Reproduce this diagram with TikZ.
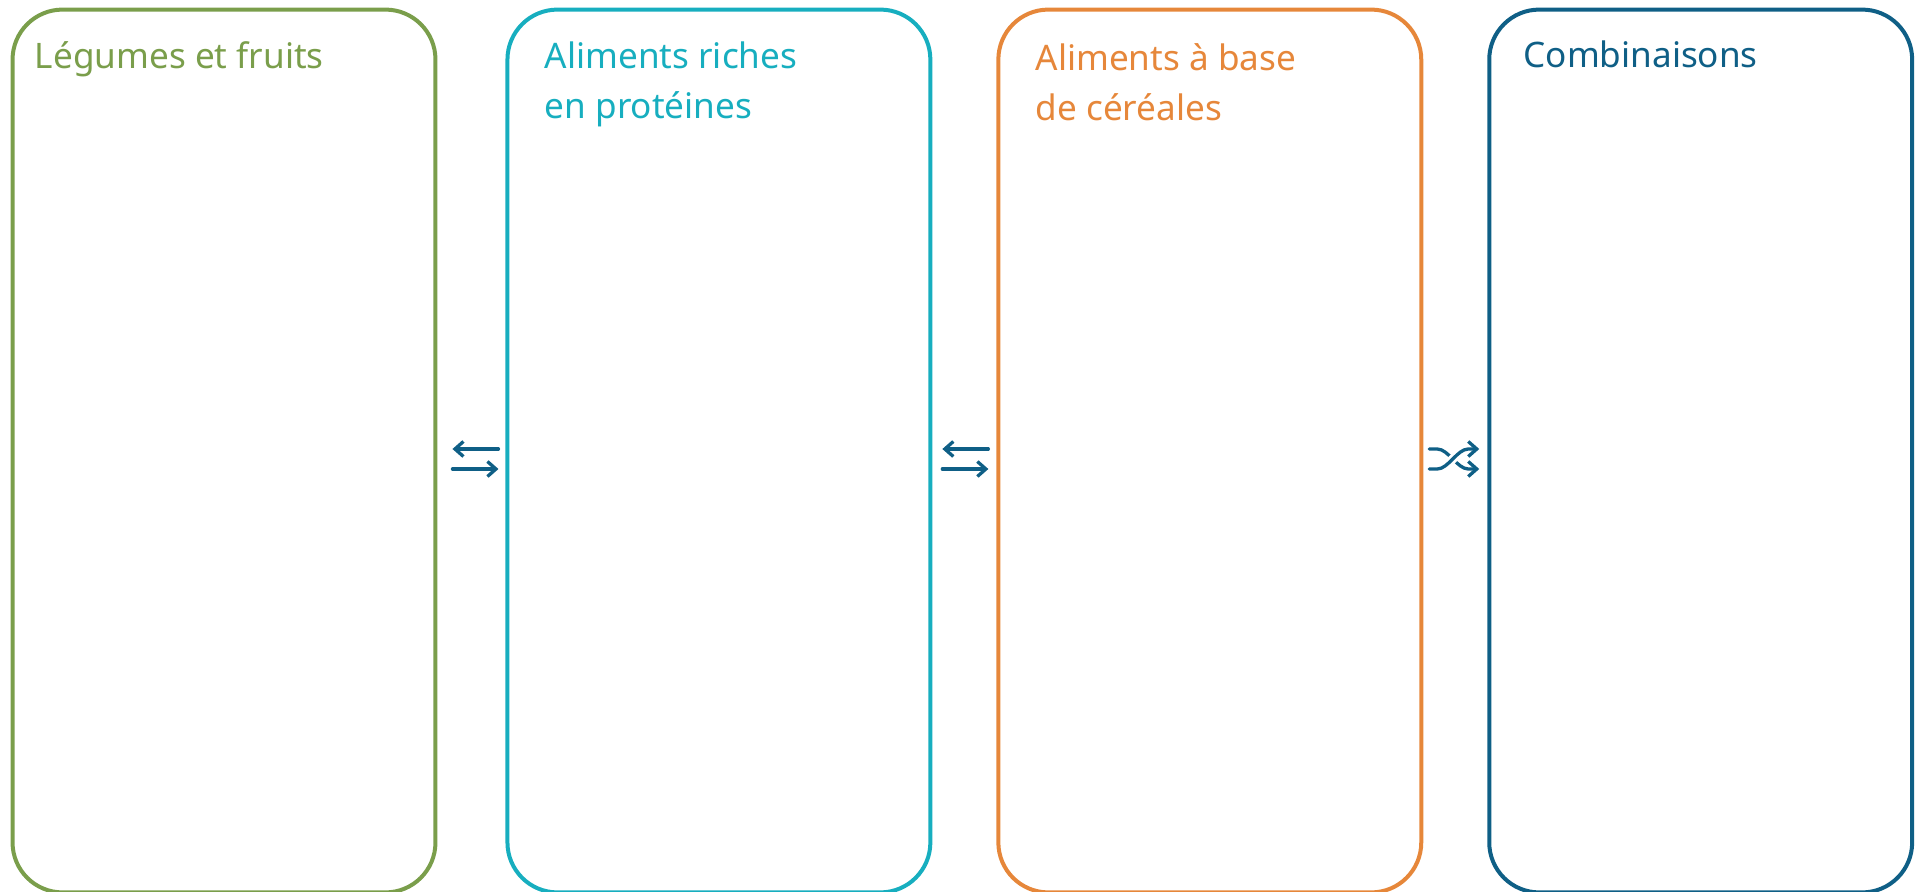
\documentclass[tikz,border=0pt]{standalone}
\usepackage{fontspec}
\setmainfont{Noto Sans}
\usetikzlibrary{positioning,arrows.meta,calc}

\definecolor{vegGreen}{HTML}{7A9E4B}
\definecolor{protTeal}{HTML}{17AEBF}
\definecolor{cerOrange}{HTML}{E6873A}
\definecolor{mixBlue}{HTML}{0F5F86}

\begin{document}
\begin{tikzpicture}[x=0.02cm, y=-0.02cm,
	panel/.style={draw=#1, line width=0.08cm, rounded corners=1cm, minimum width=8.46cm, minimum height=17.66cm, inner sep=0pt},
	heading/.style={text=#1, font=\fontsize{20}{28.5}\selectfont, align=left, anchor=base west, inner sep=0pt},
	flowarrow/.style={draw=mixBlue, line width=0.066cm, line cap=round, line join=round, -{Straight Barb[length=0.17cm, width=0.3cm]}}]
\useasboundingbox (0,0) rectangle (1921,892);

\node[panel=vegGreen] (veg) at (224,451) {}; % Legumes
\node[panel=protTeal, right=1.36cm of veg] (prot) {}; % Proteines
\node[panel=cerOrange, right=1.28cm of prot] (cer) {}; % Cereales
\node[panel=mixBlue, right=1.28cm of cer] (mix) {}; % Combinaisons

% titres (ancre = ligne de base de la derniere ligne)
\node[heading=vegGreen] (vegT) at ($(veg.north west)+(24,61)$) {Légumes et fruits};
\node[heading=protTeal] (protT) at ($(prot.north west)+(39,111)$) {Aliments riches\\en protéines};
\node[heading=cerOrange] (cerT) at ($(cer.north west)+(39,113)$) {Aliments à base\\de céréales};
\node[heading=mixBlue] (mixT) at ($(mix.north west)+(36,60)$) {Combinaisons};

\draw[flowarrow, shorten <=0.14cm, shorten >=0.3cm] ([yshift=0.04cm]prot.west) -- ([yshift=0.04cm]veg.east); % veg <-> prot
\draw[flowarrow, shorten <=0.3cm, shorten >=0.14cm] ([yshift=-0.36cm]veg.east) -- ([yshift=-0.36cm]prot.west);

\draw[flowarrow, shorten <=0.16cm, shorten >=0.2cm] ([yshift=0.04cm]cer.west) -- ([yshift=0.04cm]prot.east); % prot <-> cer
\draw[flowarrow, shorten <=0.2cm, shorten >=0.16cm] ([yshift=-0.36cm]prot.east) -- ([yshift=-0.36cm]cer.west);

\draw[flowarrow] ($(cer.east)+(6,-2)$) -- ++(8,0) .. controls +(11,0) and +(-11,0) .. ($(mix.west)+(-19,18)$) -- ++(11,0); % cer -> mix
\draw[flowarrow, preaction={draw=white, line width=0.18cm, -}] ($(cer.east)+(6,18)$) -- ++(8,0) .. controls +(11,0) and +(-11,0) .. ($(mix.west)+(-19,-2)$) -- ++(11,0);
\end{tikzpicture}
\end{document}
